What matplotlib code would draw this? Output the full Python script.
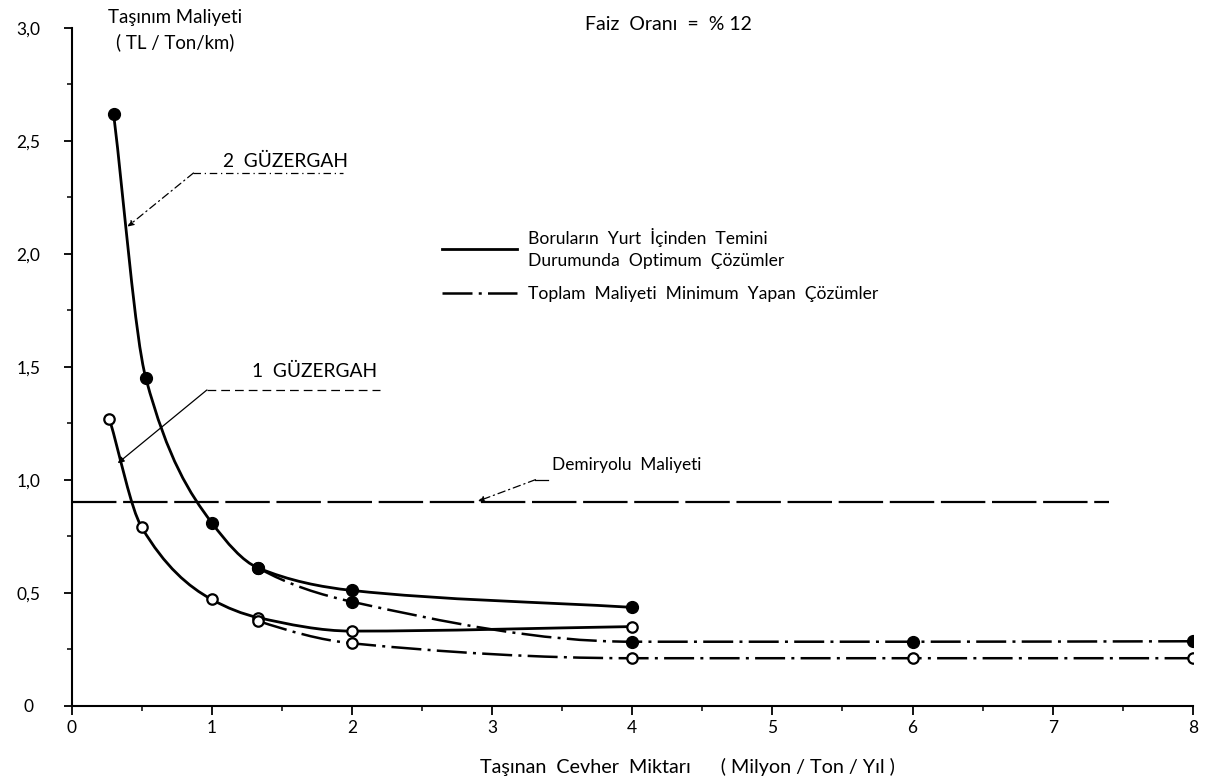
import numpy as np
import matplotlib.pyplot as plt
from matplotlib.path import Path
from matplotlib.patches import PathPatch
from matplotlib.lines import Line2D

plt.rcParams['font.family'] = ['Lato', 'DejaVu Sans']

# 2. guzergah - optimum (solid) and minimum total cost (dash-dot)
r2_opt_x = [0.30, 0.53, 1.0, 1.33, 2.0, 4.0]
r2_opt_y = [2.62, 1.45, 0.81, 0.61, 0.51, 0.435]
r2_min_x = [0.30, 0.53, 1.0, 1.33, 2.0, 4.0, 6.0, 8.0]
r2_min_y = [2.62, 1.45, 0.81, 0.61, 0.46, 0.283, 0.283, 0.285]

# 1. guzergah
r1_opt_x = [0.27, 0.50, 1.0, 1.33, 2.0, 4.0]
r1_opt_y = [1.27, 0.79, 0.47, 0.39, 0.33, 0.35]
r1_min_x = [0.27, 0.50, 1.0, 1.33, 2.0, 4.0, 6.0, 8.0]
r1_min_y = [1.27, 0.79, 0.47, 0.375, 0.276, 0.21, 0.21, 0.21]

# railway cost
rail_x = [0.0, 7.4]
rail_y = [0.9, 0.9]

yticks = [0, 0.5, 1.0, 1.5, 2.0, 2.5, 3.0]
ytick_labels = ['0', '0,5', '1,0', '1,5', '2,0', '2,5', '3,0']
xticks = [0, 1, 2, 3, 4, 5, 6, 7, 8]

DASHDOT = (0, (12, 2.5, 1.2, 2.5))


def smooth_path(xs, ys, start=0):
    # monotone cubic (pchip-like) drawn as bezier segments
    xs = np.asarray(xs, float)
    ys = np.asarray(ys, float)
    n = len(xs)
    h = np.diff(xs)
    d = np.diff(ys) / h
    m = np.zeros(n)
    m[0], m[-1] = d[0], d[-1]
    for i in range(1, n - 1):
        if d[i - 1] * d[i] <= 0:
            m[i] = 0.0
        else:
            w1 = 2 * h[i] + h[i - 1]
            w2 = h[i] + 2 * h[i - 1]
            m[i] = (w1 + w2) / (w1 / d[i - 1] + w2 / d[i])
    verts = [(xs[start], ys[start])]
    codes = [Path.MOVETO]
    for i in range(start, n - 1):
        verts += [(xs[i] + h[i] / 3, ys[i] + m[i] * h[i] / 3),
                  (xs[i + 1] - h[i] / 3, ys[i + 1] - m[i + 1] * h[i] / 3),
                  (xs[i + 1], ys[i + 1])]
        codes += [Path.CURVE4] * 3
    return Path(verts, codes)


fig = plt.figure(figsize=(12.16, 7.82), dpi=100)
ax = fig.add_axes([0.0588, 0.0976, 0.9222, 0.867])

# curves
ax.add_patch(PathPatch(smooth_path(r2_opt_x, r2_opt_y), fill=False, lw=2.0, ec='black'))
ax.add_patch(PathPatch(smooth_path(r1_opt_x, r1_opt_y), fill=False, lw=2.0, ec='black'))
ax.add_patch(PathPatch(smooth_path(r2_min_x, r2_min_y, start=3), fill=False, lw=1.8,
                       ec='black', linestyle=DASHDOT))
ax.add_patch(PathPatch(smooth_path(r1_min_x, r1_min_y, start=3), fill=False, lw=1.8,
                       ec='black', linestyle=DASHDOT))

# markers
ax.plot(r2_opt_x, r2_opt_y, 'o', ls='none', ms=8.5, mfc='black', mec='black', zorder=5)
ax.plot(r2_min_x[3:], r2_min_y[3:], 'o', ls='none', ms=8.5, mfc='black', mec='black', zorder=5)
ax.plot(r1_opt_x, r1_opt_y, 'o', ls='none', ms=7.5, mfc='white', mec='black', mew=1.6, zorder=5)
ax.plot(r1_min_x[3:], r1_min_y[3:], 'o', ls='none', ms=7.5, mfc='white', mec='black', mew=1.6, zorder=5)

# railway line
ax.plot(rail_x, rail_y, color='black', lw=1.6, linestyle=(0, (20, 3)), clip_on=False)

# axes styling
ax.set_xlim(0, 8)
ax.set_ylim(0, 3)
for s in ['top', 'right']:
    ax.spines[s].set_visible(False)
for s in ['left', 'bottom']:
    ax.spines[s].set_linewidth(1.5)
ax.set_xticks(xticks)
ax.set_xticklabels([str(v) for v in xticks])
ax.set_yticks(yticks)
ax.set_yticklabels(ytick_labels)
ax.set_xticks(np.arange(0.5, 8, 1.0), minor=True)
ax.set_yticks(np.arange(0.25, 3, 0.5), minor=True)
ax.tick_params(axis='x', which='major', direction='out', length=6.5, width=1.3, pad=4, labelsize=12.5)
ax.tick_params(axis='y', which='major', direction='out', length=6, width=1.3, pad=25, labelsize=12.5)
ax.tick_params(which='minor', direction='out', length=3.5, width=1.1)
for lab in ax.get_yticklabels():
    lab.set_horizontalalignment('center')

# axis titles
ax.set_ylabel('Taşınım Maliyeti\n( TL / Ton/km)', rotation=0, fontsize=13.4,
              ha='center', va='center', linespacing=1.45)
ax.yaxis.set_label_coords(0.0923, 0.9966)
ax.set_xlabel('Taşınan  Cevher  Miktarı      ( Milyon / Ton / Yıl )', fontsize=14.2,
              ha='left', va='center')
ax.xaxis.set_label_coords(0.364, -0.0904)

ax.text(3.66, 3.012, 'Faiz  Oranı  =  % 12', fontsize=14, ha='left', va='center',
        clip_on=False)

# route annotations
ax.text(1.08, 2.41, '2  GÜZERGAH', fontsize=13.8, ha='left', va='center')
ax.plot([0.87, 1.94], [2.357, 2.357], color='black', lw=0.9, linestyle=(0, (6, 3, 1, 3)))
ax.annotate('', xy=(0.40, 2.12), xytext=(0.87, 2.357),
            arrowprops=dict(arrowstyle='-|>', lw=0.9, color='black', mutation_scale=9,
                            linestyle=(0, (6, 3, 1, 3)), shrinkA=0, shrinkB=0))

ax.text(1.29, 1.478, '1  GÜZERGAH', fontsize=13.8, ha='left', va='center')
ax.plot([0.966, 2.2], [1.397, 1.397], color='black', lw=0.9, linestyle=(0, (7, 4)))
ax.annotate('', xy=(0.33, 1.073), xytext=(0.966, 1.397),
            arrowprops=dict(arrowstyle='-|>', lw=0.9, color='black', mutation_scale=9,
                            shrinkA=0, shrinkB=0))

ax.text(3.43, 1.065, 'Demiryolu  Maliyeti', fontsize=12.4, ha='left', va='center')
ax.plot([3.31, 3.40], [1.0, 1.0], color='black', lw=0.9)
ax.annotate('', xy=(2.9, 0.905), xytext=(3.31, 1.0),
            arrowprops=dict(arrowstyle='-|>', lw=0.9, color='black', mutation_scale=9,
                            linestyle=(0, (6, 3, 1, 3)), shrinkA=0, shrinkB=0))

# legend
handles = [Line2D([], [], color='black', lw=2.0),
           Line2D([], [], color='black', lw=1.8, linestyle=DASHDOT)]
labels = ['Boruların  Yurt  İçinden  Temini\nDurumunda  Optimum  Çözümler',
          'Toplam  Maliyeti  Minimum  Yapan  Çözümler']
leg = ax.legend(handles, labels, loc='upper left', bbox_to_anchor=(0.3635, 0.7085),
                bbox_transform=fig.transFigure, frameon=False, fontsize=12.6,
                handlelength=4.3, handletextpad=0.62, borderpad=0, borderaxespad=0,
                labelspacing=1.0)
for t in leg.get_texts():
    t.set_linespacing(1.45)

fig.savefig('out.png', dpi=100)
